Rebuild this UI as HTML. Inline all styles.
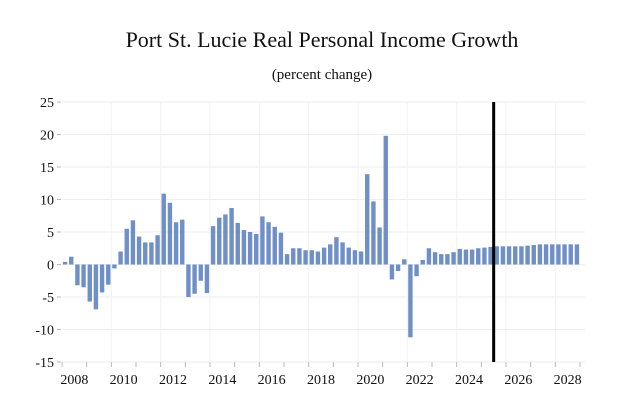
<!DOCTYPE html>
<html><head><meta charset="utf-8"><style>
body{margin:0;background:#fff;}
svg{display:block;font-family:"Liberation Serif",serif;}
</style></head><body>
<svg id="chart" width="627" height="414">
<text x="322" y="47" text-anchor="middle" font-size="22" fill="#111">Port St. Lucie Real Personal Income Growth</text>
<text x="322" y="79" text-anchor="middle" font-size="15" fill="#111">(percent change)</text>
<g id="grid"></g><g id="bars"></g><g id="axes"></g>
</svg>
<script>
const startYear = 2008;
const values = [0.4,1.2,-3.2,-3.5,-5.7,-6.9,-4.3,-3.1,-0.6,2.0,5.5,6.8,4.3,3.4,3.4,4.5,10.9,9.5,6.5,6.9,-5.0,-4.5,-2.5,-4.4,5.9,7.2,7.7,8.7,6.4,5.3,5.0,4.7,7.4,6.5,5.8,4.9,1.6,2.5,2.5,2.2,2.2,2.0,2.6,3.1,4.2,3.4,2.6,2.2,2.0,13.9,9.7,5.7,19.8,-2.3,-1.0,0.8,-11.2,-1.8,0.7,2.5,1.9,1.6,1.6,1.9,2.4,2.3,2.3,2.5,2.6,2.7,2.8,2.8,2.8,2.8,2.8,2.9,3.0,3.1,3.1,3.1,3.1,3.1,3.1,3.1];
const yTicks = [25,20,15,10,5,0,-5,-10,-15];
const xLabels = [2008,2010,2012,2014,2016,2018,2020,2022,2024,2026,2028];
const forecastStart = 2025.5;
const NS="http://www.w3.org/2000/svg";
const x0=62, x1=580, nYears=21, y0px=102, y1px=362, yMax=25, yMin=-15;
const xs = t => x0 + (t - startYear) / nYears * (x1 - x0);
const ys = v => y0px + (yMax - v) / (yMax - yMin) * (y1px - y0px);
function mk(tag, attrs, parent){const e=document.createElementNS(NS,tag);for(const k in attrs)e.setAttribute(k,attrs[k]);document.getElementById(parent).appendChild(e);return e;}
yTicks.forEach(v=>{
  const g=mk('line',{x1:x0,x2:x1+5,y1:ys(v),y2:ys(v),stroke:'#eeeeee','stroke-width':1},'grid');
  
  
  const tk=mk('line',{x1:x0-5,x2:x0-1,y1:ys(v),y2:ys(v),stroke:'#bbb'},'axes');
  
  
  const t=mk('text',{x:x0-8,y:ys(v)+5,'text-anchor':'end','font-size':14,fill:'#111'},'axes');
  t.textContent=v;
  
  
});
for(let yr=startYear; yr<=startYear+nYears; yr++){
  const tk=mk('line',{x1:xs(yr),x2:xs(yr),y1:y1px,y2:y1px+5,stroke:'#bbb'},'axes');
  
  
  if((yr-startYear)%2===0 && yr>startYear){
    const g=mk('line',{x1:xs(yr),x2:xs(yr),y1:y0px,y2:y1px,stroke:'#f1f1f1'},'grid');
    
    
  }
}
xLabels.forEach(yr=>{
  const t=mk('text',{x:xs(yr+0.5),y:384,'text-anchor':'middle','font-size':14,fill:'#111'},'axes');
  t.textContent=yr;
  
  
});
values.forEach((v,i)=>{
  const cx=xs(startYear+(i+0.5)/4);
  const top=Math.min(ys(v),ys(0)), h=Math.abs(ys(v)-ys(0));
  const r=mk('rect',{x:cx-2.2,y:top,width:4.4,height:Math.max(h,0.5),fill:'#6f8fc7'},'bars');
  
  
});
const fl=mk('line',{x1:xs(forecastStart),x2:xs(forecastStart),y1:y0px,y2:y1px,stroke:'#000','stroke-width':3},'axes');


</script>
</body></html>
